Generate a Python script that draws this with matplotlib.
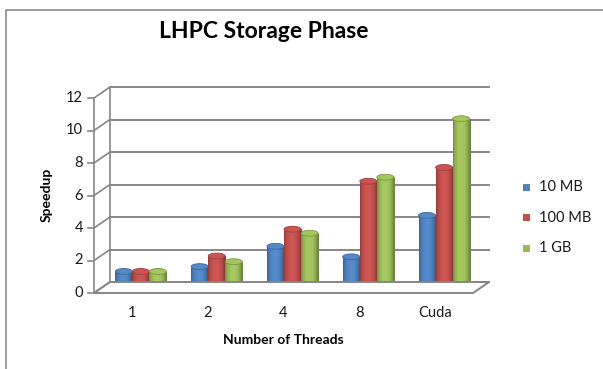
import numpy as np
import matplotlib.pyplot as plt
from matplotlib.patches import Ellipse, Polygon
from matplotlib.lines import Line2D
from matplotlib.transforms import ScaledTranslation
from matplotlib.colors import to_rgb

plt.rcParams['font.family'] = ['Lato', 'DejaVu Sans']

categories = ['1', '2', '4', '8', 'Cuda']
series_names = ['10 MB', '100 MB', '1 GB']
speed_10mb = [1.05, 1.35, 2.6, 1.95, 4.5]
speed_100mb = [1.05, 2.0, 3.65, 6.6, 7.45]
speed_1gb = [1.05, 1.65, 3.4, 6.85, 10.45]
colors = ['#4F81BD', '#C0504D', '#9BBB59']
yticks = [0, 2, 4, 6, 8, 10, 12]

W, H = 603, 369
fig = plt.figure(figsize=(W / 100, H / 100), dpi=100)

# front plane of the 3d box: x 94..473 px, y 293..98 px (from top)
ax = fig.add_axes([94 / W, 1 - 293 / H, 379 / W, 195 / H])
ax.set_xlim(-0.5, 4.5)
ax.set_ylim(0, 12)
ax.axis('off')

dx, dy = 16, 11  # depth of the box in pixels
back = ax.transData + ScaledTranslation(dx / 100, dy / 100, fig.dpi_scale_trans)
mid = ax.transData + ScaledTranslation(dx / 200 + 1 / 100, dy / 200 - 1 / 100, fig.dpi_scale_trans)
grid_c = '#868686'

# back wall gridlines and left wall
for t in yticks:
    ax.add_line(Line2D([-0.5, 4.5], [t, t], color=grid_c, lw=1.4, transform=back, clip_on=False))
    x0 = ax.transData.transform((-0.5, t))
    x1 = back.transform((-0.5, t))
    fig.add_artist(Line2D([x0[0] / W, x1[0] / W], [x0[1] / H, x1[1] / H], color=grid_c, lw=1.2))
    fig.add_artist(Line2D([(x0[0] - 6) / W, x0[0] / W], [x0[1] / H, x0[1] / H], color=grid_c, lw=1.2))
    ax.text(-0.5, t, str(t), transform=ax.transData + ScaledTranslation(-11 / 100, 0, fig.dpi_scale_trans),
            ha='right', va='center', fontsize=10.5, color='#1a1a1a')

ax.add_line(Line2D([-0.5, -0.5], [0, 12], color=grid_c, lw=1.2, transform=ax.transData, clip_on=False))
ax.add_line(Line2D([-0.5, -0.5], [0, 12], color=grid_c, lw=1.2, transform=back, clip_on=False))

# floor
p = [ax.transData.transform((-0.5, 0)), ax.transData.transform((4.5, 0)),
     back.transform((4.5, 0)), back.transform((-0.5, 0))]
floor = Polygon([(a / W, b / H) for a, b in p], closed=True, facecolor='white',
                edgecolor=grid_c, lw=1.4, transform=fig.transFigure)
fig.add_artist(floor)

# cylinders
bw = 0.225
ell_h = 0.36
all_series = [speed_10mb, speed_100mb, speed_1gb]
for k, (vals, c) in enumerate(zip(all_series, colors)):
    base = np.array(to_rgb(c))
    for i, v in enumerate(vals):
        xc = i + (k - 1) * bw
        bars = ax.bar(xc, v, width=bw, color=c, transform=mid, clip_on=False, zorder=3)
        rect = bars[0]
        grad = np.linspace(0, 1, 64)
        shade = 0.72 + 0.36 * np.sin(np.pi * np.clip(grad * 1.1, 0, 1)) ** 0.6
        img = np.clip(base[None, :] * shade[:, None], 0, 1)[None, :, :]
        im = ax.imshow(img, extent=(xc - bw / 2, xc + bw / 2, 0, v), aspect='auto',
                       transform=mid, zorder=3, interpolation='bilinear')
        im.set_clip_path(rect)
        ax.add_patch(Ellipse((xc, 0), bw, ell_h, facecolor=base * 0.78, edgecolor='none',
                             transform=mid, zorder=2.9, clip_on=False))
        ax.add_patch(Ellipse((xc, v), bw, ell_h, facecolor=np.clip(base * 1.06, 0, 1),
                             edgecolor=base * 0.8, lw=0.6, transform=mid, zorder=4, clip_on=False))

ax.set_xlim(-0.5, 4.5)
ax.set_ylim(0, 12)

for i, lab in enumerate(categories):
    ax.text(i, 0, lab, transform=ax.transData + ScaledTranslation(0, -20 / 100, fig.dpi_scale_trans),
            ha='center', va='center', fontsize=10.5, color='#1a1a1a')

fig.text(264 / W, 1 - 32 / H, 'LHPC Storage Phase', ha='center', va='center',
         fontsize=16.5, fontweight='bold', color='black')
fig.text(283 / W, 1 - 340 / H, 'Number of Threads', ha='center', va='center',
         fontsize=10, fontweight='bold', color='black')
fig.text(47 / W, 1 - 195 / H, 'Speedup', ha='center', va='center', rotation=90,
         fontsize=10, fontweight='bold', color='black')

# legend
for k, (name, c) in enumerate(zip(series_names, colors)):
    yy = 1 - (187 + 30.5 * k) / H
    fig.add_artist(Polygon([(523 / W, yy - 3.5 / H), (530 / W, yy - 3.5 / H),
                            (530 / W, yy + 3.5 / H), (523 / W, yy + 3.5 / H)],
                           closed=True, facecolor=c, edgecolor='none', transform=fig.transFigure))
    fig.text(539 / W, yy, name, ha='left', va='center', fontsize=10.5, color='#1a1a1a')

# chart frame
fig.add_artist(Line2D([5.5 / W, 5.5 / W, 1], [0, 1 - 10 / H, 1 - 10 / H], color='#8a8a8a', lw=1.2))

fig.savefig('out.png', dpi=100)
